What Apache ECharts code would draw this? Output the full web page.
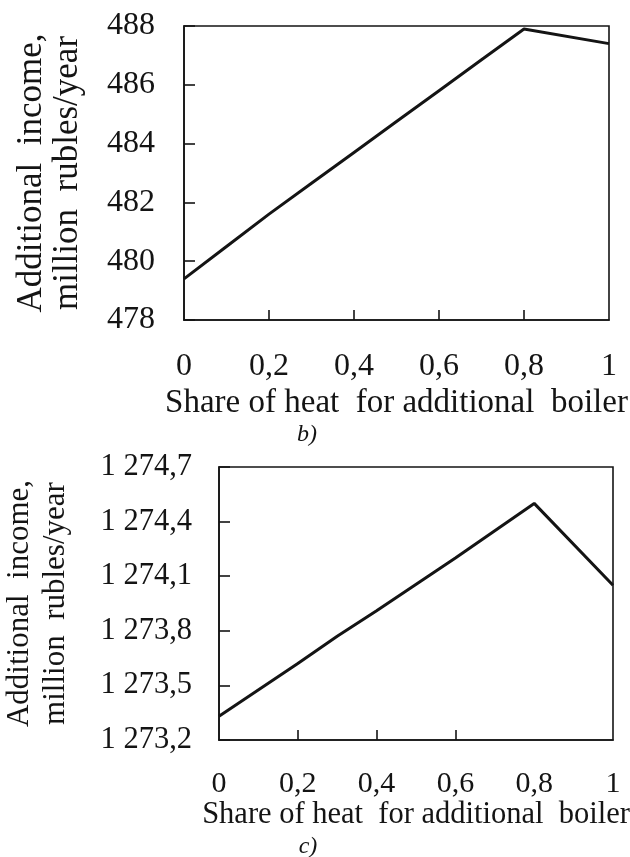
<!DOCTYPE html>
<html>
<head>
<meta charset="utf-8">
<script src="https://cdn.jsdelivr.net/npm/echarts@6/dist/echarts.min.js"></script>
<style>
  html, body { margin: 0; padding: 0; background: #ffffff; }
  #chart { width: 630px; height: 857px; }
</style>
</head>
<body>
<div id="chart"></div>
<script>
// ---- Data ----
var shareB = [0, 0.1, 0.2, 0.3, 0.4, 0.5, 0.6, 0.7, 0.8, 1];
var incomeB = [479.4, 480.5, 481.6, 482.65, 483.7, 484.75, 485.8, 486.85, 487.9, 487.4];

var shareC = [0, 0.2, 0.3, 0.4, 0.6, 0.8, 1];
var incomeC = [1273.33, 1273.62, 1273.77, 1273.91, 1274.2, 1274.5, 1274.05];

var xTicksB = [0.2, 0.4, 0.6, 0.8];
var xTicksC = [0.2, 0.4, 0.6];

var xTitle = 'Share of heat  for additional  boiler';
var yTitle = 'Additional  income,\nmillion  rubles/year';
var panelB = 'b)';
var panelC = 'c)';

// ---- Helpers ----
var FONT = 'Liberation Serif';
var INK = '#141414';

function fmtX(v) {
  return String(Math.round(v * 10) / 10).replace('.', ',');
}
function fmtThousands(v, dec) {
  var s = v.toFixed(dec);
  var parts = s.split('.');
  var intPart = parts[0].replace(/\B(?=(\d{3})+(?!\d))/g, ' ');
  return parts.length > 1 ? intPart + ',' + parts[1] : intPart;
}
function pairs(xs, ys) {
  return xs.map(function (x, i) { return [x, ys[i]]; });
}

function xAxisCfg(gridIndex, ticks, labelMargin, nameGap, labelSize, nameSize) {
  return {
    type: 'value', gridIndex: gridIndex, min: 0, max: 1, interval: 0.2,
    axisLine: { show: true, lineStyle: { color: INK, width: 1.6 } },
    axisTick: { show: true, inside: true, length: 10, customValues: ticks,
                lineStyle: { color: INK, width: 1.6 } },
    axisLabel: { margin: labelMargin, fontFamily: FONT, fontSize: labelSize, color: INK,
                 formatter: fmtX },
    splitLine: { show: false },
    name: xTitle, nameLocation: 'middle', nameGap: nameGap,
    nameTextStyle: { fontFamily: FONT, fontSize: nameSize, color: INK }
  };
}

var option = {
  backgroundColor: '#ffffff',
  animation: false,
  grid: [
    { left: 184, right: 21, top: 26, height: 294, show: true,
      outerBoundsMode: 'none', containLabel: false,
      borderColor: INK, borderWidth: 1.6, backgroundColor: 'transparent' },
    { left: 219, right: 17, top: 467, height: 273, show: true,
      outerBoundsMode: 'none', containLabel: false,
      borderColor: INK, borderWidth: 1.6, backgroundColor: 'transparent' }
  ],
  xAxis: [
    xAxisCfg(0, xTicksB, 31, 67, 32, 33),
    xAxisCfg(1, xTicksC, 29, 52, 30, 30.5)
  ],
  yAxis: [
    {
      type: 'value', gridIndex: 0, min: 478, max: 488, interval: 2,
      axisLine: { show: true, lineStyle: { color: INK, width: 1.6 } },
      axisTick: { show: true, inside: true, length: 11,
                  lineStyle: { color: INK, width: 1.6 } },
      axisLabel: { margin: 29, fontFamily: FONT, fontSize: 32, color: INK },
      splitLine: { show: false },
      name: yTitle, nameLocation: 'middle', nameRotate: 90, nameGap: 98,
      nameTextStyle: { fontFamily: FONT, fontSize: 35, color: INK, lineHeight: 36 }
    },
    {
      type: 'value', gridIndex: 1, min: 1273.2, max: 1274.7, interval: 0.3,
      axisLine: { show: true, lineStyle: { color: INK, width: 1.6 } },
      axisTick: { show: true, inside: true, length: 11,
                  lineStyle: { color: INK, width: 1.6 } },
      axisLabel: { margin: 27, fontFamily: FONT, fontSize: 30.5, color: INK,
                   formatter: function (v) { return fmtThousands(v, 1); } },
      splitLine: { show: false },
      name: yTitle, nameLocation: 'middle', nameRotate: 90, nameGap: 145,
      nameTextStyle: { fontFamily: FONT, fontSize: 31, color: INK, lineHeight: 36 }
    }
  ],
  series: [
    {
      type: 'line', xAxisIndex: 0, yAxisIndex: 0, data: pairs(shareB, incomeB),
      showSymbol: false, lineStyle: { color: INK, width: 3 }, clip: false
    },
    {
      type: 'line', xAxisIndex: 1, yAxisIndex: 1, data: pairs(shareC, incomeC),
      showSymbol: false, lineStyle: { color: INK, width: 3 }, clip: false
    }
  ],
  graphic: [
    { type: 'text', x: 307, y: 435,
      style: { text: panelB, font: 'italic 24px "Liberation Serif"', fill: INK,
               align: 'center', verticalAlign: 'middle' } },
    { type: 'text', x: 308, y: 847,
      style: { text: panelC, font: 'italic 24px "Liberation Serif"', fill: INK,
               align: 'center', verticalAlign: 'middle' } }
  ]
};

var chart = echarts.init(document.getElementById('chart'), null, { renderer: 'canvas' });
chart.setOption(option);
</script>
</body>
</html>
